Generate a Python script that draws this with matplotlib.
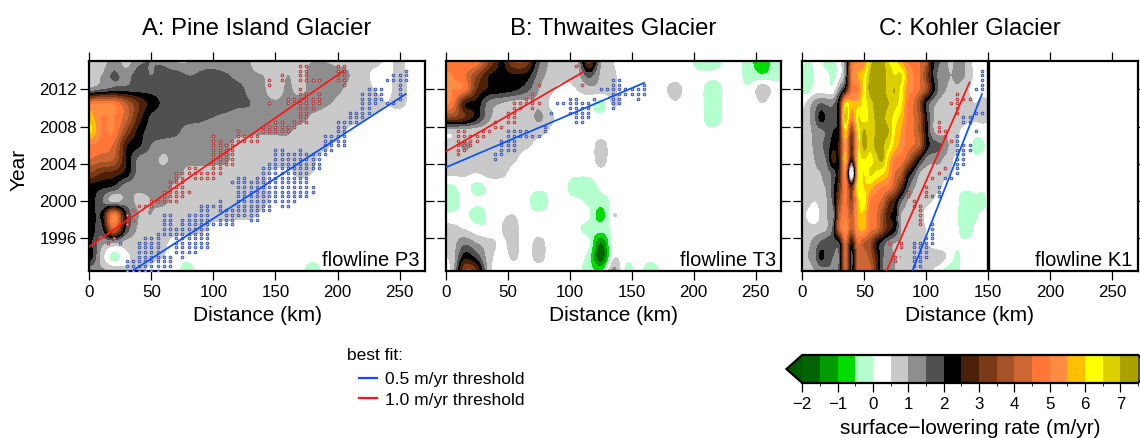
import numpy as np
import matplotlib
matplotlib.use("Agg")
import matplotlib.pyplot as plt
from matplotlib.colors import ListedColormap, BoundaryNorm
from matplotlib.lines import Line2D

plt.rcParams['font.family'] = ['Liberation Sans', 'DejaVu Sans']

row_years = [2015, 2013.5, 2012, 2010.5, 2009, 2007.5, 2006, 2004.5, 2003, 2001.5, 2000, 1998.5, 1997, 1995.5, 1994, 1992.5]

# Panel A: columns 0, 10, ... 270 km
dist_a = list(range(0, 280, 10))
rate_a = [
 [.6,.7,1.3,.8, 1.4,1.5,1.4,1.0, 1.0,1.3,1.2,1.0, 1.0,1.0,.6,.9, .8,.8,1.0,1.0, .9,.9,.6,.7, .4,.6,.3,.2],
 [.6,1.0,1.6,1.3, 1.75,1.5,1.75,1.75, 1.5,1.6,1.75,1.6, 1.3,1.1,1.0,.7, 1.0,.8,1.3,1.3, 1.2,1.0,.9,.3, .3,.7,.2,.2],
 [1.2,1.5,1.7,1.75, 1.8,1.8,1.8,1.8, 1.8,1.8,1.8,1.7, 1.7,1.3,1.1,.7, 1.1,.8,1.3,1.4, 1.1,.9,.8,.5, .3,.8,.3,.2],
 [4.8,5.0,4.9,4.0, 3.0,2.3,1.9,1.7, 1.7,1.7,1.7,1.7, 1.6,1.5,1.2,1.1, 1.2,1.3,1.3,1.1, .9,.8,.8,.7, .5,.7,.3,.2],
 [5.8,5.0,5.0,4.2, 2.8,1.9,1.8,1.7, 1.7,1.6,1.5,1.4, 1.3,1.3,1.3,1.3, 1.3,1.2,.9,.8, .8,.7,.6,.4, .3,.2,.2,.2],
 [6.2,5.0,5.0,3.5, 2.3,1.8,1.7,1.6, 1.3,1.3,1.2,1.2, 1.2,1.1,1.1,1.1, 1.1,.8,.8,.7, .7,.4,.3,.2, .2,.2,.2,.1],
 [5.0,4.8,4.4,2.6, 2.1,1.5,1.3,1.3, 1.3,1.2,1.2,1.1, .8,.75,.75,.75, .75,.7,.7,.6, .4,.2,.2,.1, .1,.1,.1,.1],
 [4.5,4.2,4.0,2.5, 1.4,1.3,.9,1.3, 1.2,1.2,1.2,1.1, .8,.75,.75,.75, .7,.7,.6,.3, .2,.1,.1,.1, .1,.1,.1,.1],
 [3.5,3.0,2.8,2.3, 1.3,1.2,1.2,1.2, .8,.8,.75,.75, .7,.7,.6,.4, .4,.6,.5,.2, .1,.1,.1,.1, .1,.1,.1,.1],
 [2.3,2.1,1.9,1.2, 1.1,1.1,1.1,.9, .7,.7,.7,.6, .7,.8,.6,.3, .3,.3,.2,.1, .1,.1,.1,.1, .1,.1,.1,.1],
 [2.3,1.6,.8,1.2, .9,1.0,1.1,.8, .7,.7,.7,.7, .7,1.0,.7,.3, .2,.1,.1,.1, .1,.1,.1,.1, .1,.1,.1,.1],
 [2.3,2.1,5.0,2.1, 1.0,1.0,.8,.7, .7,.7,.7,.7, .7,.7,.3,.2, .1,.1,.1,.1, .1,.1,.1,.1, .1,.1,.1,.1],
 [2.5,1.8,4.3,1.9, .9,.8,.7,.7, .7,.7,.3,.2, .1,.1,.1,.1, .1,.1,.1,.1, .1,.1,.1,.1, .1,.1,.1,.1],
 [2.2,1.2,1.0,.8, .7,.7,.6,.3, .2,.1,.1,.1, .1,.1,.1,.1, .1,.1,.1,.1, .1,.1,.1,.1, .1,.1,.1,.1],
 [2.4,.8,-.2,.4, .6,.6,.5,.2, .1,.5,.1,.1, .1,.1,.1,.1, .1,.1,.1,.1, .1,.1,.1,.1, .1,.1,.1,.1],
 [1.2,1.1,.9,.6, .6,.4,.2,.1, -.2,.1,.1,.1, .1,.1,.1,.1, .1,.1,-.2,.1, .1,.1,.1,.1, .1,.1,.1,.1],
]

# Panel B: columns 5, 15, ... 265 km
dist_b = list(range(5, 275, 10))
rate_b = [
 [4.8,5.0,4.8,3.5, 2.4,3.5,3.3,1.6, .9,.8,.7,3.2, 1.0,.5,.2,.1, .1,.1,.1,.1, -.2,-.3,.1,.1, -.3,-1.0,-.2],
 [5.0,4.6,3.5,2.5, 2.35,2.4,2.3,1.3, .8,.7,.7,1.7, .9,.6,.2,.1, .1,.1,.1,.1, .1,.1,.1,.1, -.2,-.4,-.2],
 [5.0,4.8,3.0,2.4, 2.3,2.1,1.7,1.0, .6,.3,.5,.8, .8,.6,.2,.1, .1,.3,.9,.1, .1,-.3,.1,.1, .1,.9,.3],
 [4.8,2.6,2.3,1.3, 1.0,.8,.8,.9, .4,.2,.2,.2, -.2,.6,.2,.1, .1,.1,.4,.1, .1,-.3,.1,.1, .1,.5,.1],
 [3.5,3.0,2.2,1.1, .8,.7,.7,1.1, .6,.2,.1,.1, .1,.1,.1,.1, .1,.1,.1,.1, .1,-.3,.1,.1, .1,.1,.1],
 [.7,.8,.7,.7, .7,.7,.7,.7, .4,.2,.1,.1, .1,.1,.1,.1, .1,.1,.1,.4, .1,.1,.1,.1, .1,.1,.1],
 [.7,1.1,.8,.7, .7,.7,.6,.3, .1,.1,.1,.1, .8,.1,.1,.1, .1,.1,.1,.1, .1,.1,.1,.1, .1,.1,.1],
 [.6,.7,.7,.7, .9,.6,.2,.1, .1,.1,.1,.1, .8,.1,.1,.1, .1,.1,.1,.1, .1,.1,.1,.1, .1,.1,.1],
 [.6,.6,.5,.7, .7,.2,.1,.1, .1,.1,.1,.1, .3,.1,.1,.1, .1,.1,.1,.1, .1,.1,.1,.1, .1,.1,.1],
 [-.1,.2,-.2,.1, .1,.1,.1,.1, .1,.1,-.3,-.3, .1,.1,.1,.1, .1,.1,.1,.1, .1,.1,.1,.1, .1,.1,.1],
 [-.3,.2,.1,.1, .1,.1,.1,-.3, .1,.1,.1,-.1, -.2,.1,.1,.1, .1,.1,.1,.1, .1,.1,.1,.1, .1,.1,.1],
 [.1,.1,-.2,.1, .4,.5,.1,.1, .1,.1,.1,.1, -.8,.5,.1,.1, .1,.1,.1,.1, .1,.1,.1,.1, .1,.1,.1],
 [.7,.5,.2,.1, .5,.7,.1,.1, .1,.1,.1,-.2, -.3,.1,.1,.1, .1,.1,.1,.1, .1,.1,.1,.1, .1,.1,.1],
 [.8,1.4,1.0,.7, .4,.7,.2,.8, .1,.1,.1,.1, -1.5,.3,.1,.1, .1,.1,.1,.1, .1,.1,.1,.1, .1,.1,.1],
 [.7,2.3,1.8,.7, .3,.6,.2,.8, .1,.1,.1,-.2, -1.9,.4,.1,.1, .1,.1,.1,.1, .1,.1,.1,.1, .1,.1,.1],
 [.7,3.5,3.0,.7, .2,.2,.2,.1, .1,.1,.1,-.2, -.6,1.2,-.1,.1, -.2,.1,.1,.1, .1,.1,.1,.1, .1,.1,.1],
]

# Panel C: columns 0, 5, ... 150 km
dist_c = list(range(0, 155, 5))
rate_c = [
 [.2,-.2,.1,.1,-.2,-.2,.3,1.3,4.5,5.0,5.2,6.8,7.2,7.2,6.5,6.3,5.6,5.0,4.8,4.5,4.0,2.3,1.6,1.3,.8,1.3,1.2,.6,.4,.2,.2],
 [-.2,-.3,.1,.1,.1,-.1,.3,1.4,4.8,5.5,6.0,7.1,7.3,7.3,6.8,6.5,6.6,5.5,5.0,4.5,3.5,2.2,1.4,1.3,1.0,1.2,1.1,.7,.4,.3,.3],
 [-.1,-.2,.2,.2,.2,.2,1.2,2.5,4.7,5.0,6.2,7.2,7.3,7.3,6.8,7.0,6.3,5.3,5.0,4.5,3.8,2.5,1.5,1.1,.8,.9,.7,.5,.3,.2,.2],
 [.3,.7,1.2,1.5,1.4,1.4,2.5,6.0,5.6,5.7,6.2,6.8,7.2,7.2,7.0,6.7,6.2,5.0,4.5,3.5,2.0,1.3,.9,.7,.7,.8,.6,.6,.5,.7,.7],
 [.7,.9,1.4,2.2,1.9,1.8,2.5,7.0,5.0,6.5,6.2,6.7,7.1,7.1,6.8,6.3,5.8,5.0,4.5,3.8,2.3,1.2,.7,.7,.7,.8,.7,.6,.6,.7,.7],
 [.7,.8,1.2,1.4,1.6,2.0,2.5,6.0,3.5,6.0,7.1,6.5,7.1,7.1,7.0,6.0,5.5,4.8,4.5,3.8,2.4,1.2,.8,.8,.7,.6,.4,.3,.2,.2,.2],
 [.7,.8,1.1,1.4,1.7,2.3,2.7,5.5,3.0,5.7,7.2,6.7,7.2,7.1,6.6,5.8,5.3,4.8,4.5,4.0,2.5,1.8,1.6,1.4,.8,.5,.3,.2,-.2,-.1,.1],
 [.7,.8,1.0,1.3,1.6,2.7,2.6,5.7,2.6,6.0,6.5,6.3,6.8,7.1,5.8,5.0,4.8,4.2,3.2,2.2,1.4,1.2,1.2,.9,.6,.4,.2,.1,.1,.1,.1],
 [.7,.8,.9,1.0,1.3,1.7,2.7,5.0,-.3,5.8,6.0,6.6,6.4,6.1,5.5,4.5,4.0,2.6,1.8,1.0,.8,.7,.7,.6,.5,.2,.1,.1,.1,.1,.1],
 [1.0,.9,.8,.9,1.1,1.8,3.0,5.0,3.0,6.2,6.0,5.8,5.3,5.0,4.8,4.0,3.0,1.8,1.1,.8,.7,.7,.6,.4,.2,.1,.1,.1,.1,.1,.1],
 [.7,.7,.5,.7,1.0,1.7,3.5,4.8,3.5,5.8,6.3,5.0,4.7,4.3,3.2,2.6,1.6,1.0,.8,.7,.6,.5,.3,.1,.1,.1,-.3,-.3,-.1,-.2,.1],
 [.7,.4,.2,.6,1.0,1.3,4.0,5.0,4.0,5.7,5.8,4.8,4.6,3.6,2.6,2.3,1.0,.9,.7,.7,.4,.3,.2,.1,.1,.1,-.4,-.3,-.1,.1,.1],
 [.7,.7,.7,.8,1.0,1.7,4.2,5.2,4.0,5.4,5.6,4.7,4.4,3.5,2.7,2.2,1.0,.7,.7,.7,.5,.4,.2,.1,.1,.1,-.3,-.2,.1,.1,.1],
 [.7,.9,1.2,1.6,1.8,1.8,2.0,4.5,2.5,4.5,4.0,3.6,2.5,1.8,1.3,1.0,.9,.7,.7,.6,.5,.4,.2,.1,.1,.1,.1,.1,.1,.1,.1],
 [.7,1.0,1.3,2.15,1.8,1.5,1.6,4.5,1.8,4.2,4.3,3.8,2.8,1.6,1.3,1.0,1.0,.9,.8,.8,.7,.7,.8,.6,.2,-.1,.1,.1,.1,.1,.1],
 [.7,.8,1.0,1.2,1.4,1.5,1.7,4.3,2.0,4.2,4.2,4.2,3.0,1.5,1.2,1.0,.9,.8,.7,.6,.6,.5,.3,-.1,-.3,-.1,.1,.1,.1,.1,.1],
]

# Threshold dots: (distance, first year, last year), one dot per half year
blue_a = [(25,1995.5,1995.5),(30,1992.5,1993.5),(35,1992.5,1993.5),(40,1992.5,1995.5),(45,1992.5,1996),(50,1992.5,1996),
 (55,1992.5,1996.5),(60,1996.5,1998.5),(60,1993,1994),(65,1996.5,1998.5),(65,1993,1994),(70,1994.5,1997),(75,1994,1998),
 (80,1994.5,1998.5),(85,1994.5,1998.5),(90,1995,1999.5),(95,1995,1999.5),(100,1999.5,1999.5),(100,1997.5,1997.5),
 (105,1997.5,1998),(105,1999,2000),(110,1997.5,1999),(115,2002,2002),(115,1997.5,1999),(120,1998.5,2002.5),(125,1998.5,2002.5),
 (130,1998,2002),(135,1998,2002.5),(140,1999,2003.5),(145,1999,2004),(150,2000,2005.5),(155,1999.5,2005.5),(160,1999.5,2005),
 (165,2000,2005),(170,2000.5,2005.5),(175,2000.5,2005),(180,2003.5,2005),(180,2001,2001.5),(185,2003.5,2005),(190,2005,2007),
 (195,2005.5,2007),(200,2006,2008.5),(205,2006,2008.5),(210,2008.5,2009.5),(215,2008.5,2009.5),(220,2009,2011.5),
 (225,2009.5,2012),(230,2010.5,2012),(235,2011,2012),(240,2013,2013),(240,2010.5,2010.5),(245,2013,2013.5),(245,2010.5,2010.5),
 (250,2011,2013.5),(255,2013,2014)]
red_a = [(15,1995.5,1995.5),(20,1996,1996),(30,1997.5,1998.5),(35,1999,1999),(35,1998,1998),(40,1999.5,1999.5),(45,1999.5,1999.5),
 (50,1999.5,2000),(55,2000,2000),(60,2000,2001),(65,2000,2002),(70,2000,2003),(75,2000.5,2003),(80,2001,2001),(80,2003,2003.5),
 (85,2002.5,2003.5),(90,2002.5,2003),(95,2002.5,2003),(100,2002.5,2007),(105,2003,2006.5),(110,2004,2006),(115,2004,2006.5),
 (120,2006.5,2007.5),(125,2006.5,2007),(130,2006.5,2007),(135,2006.5,2007),(140,2007.5,2008),(145,2012.5,2013),(145,2010.5,2010.5),
 (145,2007.5,2008),(150,2007.5,2008.5),(155,2013,2013.5),(155,2007.5,2008.5),(160,2010.5,2011),(160,2007.5,2008),(165,2010.5,2011),
 (165,2008,2008.5),(170,2013,2014.5),(170,2008.5,2012),(175,2013,2014.5),(175,2008.5,2011.5),(180,2013,2013),(180,2010,2011),
 (185,2013,2013),(185,2010.5,2011.5),(200,2013,2014.5),(205,2012.5,2014.5)]
blue_b = [(40,2004.5,2005),(45,2005,2006.5),(50,2005.5,2007.5),(55,2005.5,2007.5),(60,2007,2007.5),(65,2007,2007.5),(70,2007,2007),
 (75,2007,2007),(80,2007.5,2008),(85,2009.5,2009.5),(90,2010.5,2010.5),(95,2010.5,2010.5),(100,2009.5,2011),(105,2008.5,2011),
 (110,2008.5,2010.5),(115,2009,2010.5),(120,2011,2011),(125,2012,2012),(130,2012,2012),(135,2010,2013),(140,2010.5,2013),
 (145,2011.5,2012),(150,2011.5,2012),(155,2011,2012),(160,2011.5,2012.5)]
red_b = [(10,2005,2007.5),(15,2005.5,2007.5),(20,2006,2007),(25,2006.5,2007),(30,2007,2007.5),(35,2007.5,2007.5),(40,2008,2008.5),
 (45,2008,2008),(50,2008.5,2009.5),(55,2008.5,2010.5),(60,2010,2010.5),(65,2010.5,2011),(70,2010,2011.5),(75,2012.5,2012.5),
 (75,2010.5,2010.5),(105,2014.5,2014.5),(110,2012.5,2012.5)]
blue_c = [(90,1993,1995.5),(95,1993,1995.5),(100,1994,1996),(105,1995.5,1997.5),(105,2000.5,2000.5),(110,2000.5,2001.5),(115,2002.5,2002.5),
 (120,2002.5,2002.5),(125,2003,2007),(130,2008.5,2009),(130,2004,2006),(135,2008.5,2009),(135,2005.5,2006),(140,2012,2012),(140,2009.5,2009.5),
 (140,2007.5,2007.5),(145,2012,2014),(145,2009.5,2009.5)]
red_c = [(70,1995.5,1995.5),(75,1994,1994),(75,1993.5,1993.5),(80,1995,1995.5),(85,2000.5,2001),(90,1999.5,2000),(95,1997.5,1999.5),
 (100,2000.5,2001.5),(105,2002.5,2002.5),(110,2007.5,2008.5),(110,2003,2003),(115,2007,2007.5),(115,2003.5,2003.5),(120,2010.5,2010.5),
 (120,2006.5,2006.5),(125,2009.5,2011.5),(130,2011,2011),(135,2011,2011)]

# Best-fit lines: distance and year at each end
fit_red_a = ([0, 205], [1995.1, 2014.0])
fit_blue_a = ([35, 255], [1992.5, 2011.5])
fit_red_b = ([0, 110], [2005.3, 2013.8])
fit_blue_b = ([0, 160], [2003.6, 2012.7])
fit_red_c = ([68, 135], [1992.5, 2012.75])
fit_blue_c = ([89, 145], [1992.5, 2011.5])

titles = ['A: Pine Island Glacier', 'B: Thwaites Glacier', 'C: Kohler Glacier']
flowlines = ['flowline P3', 'flowline T3', 'flowline K1']
x_ticks = [0, 50, 100, 150, 200, 250]
y_ticks = [1996, 2000, 2004, 2008, 2012]
levels = [-2, -1.5, -1, -.5, 0, .5, 1, 1.5, 2, 2.5, 3, 3.5, 4, 4.5, 5, 5.5, 6, 6.5, 7, 7.5]
band_colors = ['#006400', '#009C00', '#00DC00', '#B4FFCE', '#FFFFFF', '#C9C9C9', '#8E8E8E', '#505050', '#000000',
               '#4A2008', '#7A3A16', '#A65228', '#CC6633', '#FF7636', '#FF8C40', '#FFC000', '#FFFF00', '#DDD000', '#AAA000']
under_color, over_color = '#005A00', '#5A5000'

W, H = 1140, 438
fig = plt.figure(figsize=(W/100, H/100), dpi=100)
cmap = ListedColormap(band_colors)
cmap.set_under(under_color)
cmap.set_over(over_color)
norm = BoundaryNorm(levels, cmap.N)

def pix_axes(l, t, r, b):
    return fig.add_axes([l/W, 1-b/H, (r-l)/W, (b-t)/H])

def expand(spans):
    xs, ys = [], []
    for x, lo, hi in spans:
        for y in np.arange(lo, hi+.25, .5):
            xs.append(x); ys.append(y)
    return xs, ys

panels = [
 (89.3, 425, dist_a, rate_a, blue_a, red_a, fit_blue_a, fit_red_a),
 (445.7, 781, dist_b, rate_b, blue_b, red_b, fit_blue_b, fit_red_b),
 (802.3, 1137.5, dist_c, rate_c, blue_c, red_c, fit_blue_c, fit_red_c),
]
for i, (l, r, dist, rate, bl, rd, fb, fr) in enumerate(panels):
    ax = pix_axes(l, 61, r, 270.7)
    dx = dist[1]-dist[0]
    ax.imshow(np.array(rate), extent=[dist[0]-dx/2, dist[-1]+dx/2, 1992.5-.75, 2015+.75], aspect='auto',
              cmap=cmap, norm=norm, interpolation='catrom', interpolation_stage='data')
    ax.set_xlim(0, 270.5)
    ax.set_ylim(1992.5, 2015.05)
    if i == 2:
        ax.axvspan(150, 271, color='white', zorder=2, lw=0)
        ax.axvline(150, color='black', lw=2.4, zorder=5)
    bx, by = expand(bl)
    rx, ry = expand(rd)
    ax.scatter(bx, by, s=4, facecolors='#AEB9E6', edgecolors='#1F3FA8', linewidths=.55, zorder=3)
    ax.scatter(rx, ry, s=4, facecolors='#E3A8A8', edgecolors='#B02020', linewidths=.55, zorder=3)
    ax.plot(*fb, color='#0A50FF', lw=1.25, zorder=4)
    ax.plot(*fr, color='#FF1414', lw=1.25, zorder=4)
    ax.set_xticks(x_ticks)
    ax.set_yticks(y_ticks)
    ax.tick_params(axis='both', which='both', direction='out', length=6.5, width=.9, labelsize=12.2,
                   top=True, right=True, left=True, bottom=True, labelleft=(i == 0))
    ax.tick_params(axis='x', pad=3.8)
    ax.tick_params(axis='y', pad=2.5)
    for s in ax.spines.values():
        s.set_linewidth(1.6)
    ax.set_xlabel('Distance (km)', fontsize=15, labelpad=4)
    if i == 0:
        ax.set_ylabel('Year', fontsize=15)
        ax.yaxis.set_label_coords(-(89.3-29)/335.7, .48)
    ax.set_title(titles[i], fontsize=17.2, pad=19)
    ax.text(.985, .0224, flowlines[i], transform=ax.transAxes, ha='right', va='baseline', fontsize=14.5, zorder=6)

# legend
handles = [Line2D([], [], color='#0A50FF', lw=1.6), Line2D([], [], color='#FF1414', lw=1.6)]
fig.legend(handles, ['0.5 m/yr threshold', '1.0 m/yr threshold'], frameon=False,
           loc='upper left', bbox_to_anchor=(359/W, 1-371.5/H), borderaxespad=0, borderpad=0, fontsize=12.5,
           handlelength=1.03, handletextpad=.46, labelspacing=.33)
fig.text(347/W, 1-360/H, 'best fit:', fontsize=12.5, ha='left', va='baseline')

# colorbar: bar spans 802.3 to 1138, arrow length about 15.8 px on each end
cax = pix_axes(802.3-15.8, 355, 1138+15.8, 383)
cb = fig.colorbar(plt.cm.ScalarMappable(norm=norm, cmap=cmap), cax=cax, orientation='horizontal',
                  extend='both', extendfrac=.047, spacing='proportional', drawedges=False, boundaries=levels,
                  ticks=list(range(-2, 8)))
cb.ax.set_xticklabels(['\u2212'+str(-v) if v < 0 else str(v) for v in range(-2, 8)])
cb.ax.tick_params(length=6.5, width=.9, labelsize=12.2, pad=3.8)
cb.outline.set_linewidth(1.6)
cb.set_label('surface\u2212lowering rate (m/yr)', fontsize=15, labelpad=4.5)

fig.savefig('out.png', dpi=100)
